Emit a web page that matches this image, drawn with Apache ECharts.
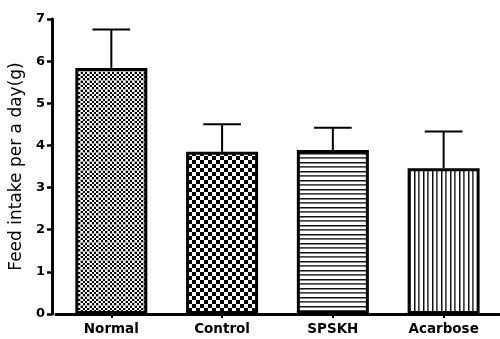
<!DOCTYPE html>
<html>
<head>
<meta charset="utf-8">
<script src="https://cdn.jsdelivr.net/npm/echarts@6/dist/echarts.min.js"></script>
<style>
html,body{margin:0;padding:0;background:#fff;}
#chart{width:500px;height:339px;}
</style>
</head>
<body>
<div id="chart"></div>
<script>
const categories = ['Normal', 'Control', 'SPSKH', 'Acarbose'];
const means = [5.84, 3.85, 3.89, 3.46];
const errors = [0.91, 0.65, 0.53, 0.87];
const yTicks = [0, 1, 2, 3, 4, 5, 6, 7];

function makeCanvas(w, h, draw) {
  const c = document.createElement('canvas');
  c.width = w; c.height = h;
  const ctx = c.getContext('2d');
  ctx.fillStyle = '#fff';
  ctx.fillRect(0, 0, w, h);
  draw(ctx);
  return c;
}
// fine checkerboard with light gray grid lines
const patFine = makeCanvas(9, 9, ctx => {
  ctx.fillStyle = '#000';
  for (let y = 0; y < 8; y += 2) {
    for (let x = 0; x < 8; x += 2) {
      if (((x + y) / 2) % 2 === 0) ctx.fillRect(x, y, 2, 2);
    }
  }
  ctx.fillStyle = '#aaa';
  ctx.fillRect(8, 0, 1, 9);
  ctx.fillRect(0, 8, 9, 1);
});
// coarse checkerboard
const patCoarse = makeCanvas(8, 8, ctx => {
  ctx.fillStyle = '#000';
  ctx.fillRect(0, 0, 4, 4);
  ctx.fillRect(4, 4, 4, 4);
});
// horizontal lines
const patH = makeCanvas(4, 9, ctx => {
  ctx.fillStyle = '#111';
  ctx.fillRect(0, 0, 4, 1);
  ctx.fillStyle = '#888';
  ctx.fillRect(0, 1, 4, 1);
  ctx.fillStyle = '#444';
  ctx.fillRect(0, 4, 4, 1);
  ctx.fillStyle = '#777';
  ctx.fillRect(0, 5, 4, 1);
});
// vertical lines
const patV = makeCanvas(9, 4, ctx => {
  ctx.fillStyle = '#111';
  ctx.fillRect(0, 0, 1, 4);
  ctx.fillStyle = '#888';
  ctx.fillRect(1, 0, 1, 4);
  ctx.fillStyle = '#444';
  ctx.fillRect(4, 0, 1, 4);
  ctx.fillStyle = '#777';
  ctx.fillRect(5, 0, 1, 4);
});
const patterns = [patFine, patCoarse, patH, patV];

const chart = echarts.init(document.getElementById('chart'), null, {renderer: 'canvas'});

const barData = means.map((v, i) => ({
  value: v,
  itemStyle: {color: {image: patterns[i], repeat: 'repeat'}}
}));
const errData = means.map((v, i) => [i, v, v + errors[i]]);

const option = {
  animation: false,
  backgroundColor: '#fff',
  grid: {left: 55, right: 1, top: 19, bottom: 25, containLabel: false},
  xAxis: {
    type: 'category',
    data: categories,
    axisLine: {lineStyle: {color: '#000', width: 3}},
    axisTick: {show: true, alignWithLabel: true, length: 4, lineStyle: {color: '#000', width: 2}},
    axisLabel: {color: '#000', fontFamily: 'DejaVu Sans', fontWeight: 'bold', fontSize: 13.5, margin: 8}
  },
  yAxis: {
    type: 'value',
    min: yTicks[0], max: yTicks[yTicks.length - 1], interval: 1,
    offset: 4,
    name: 'Feed intake per a day(g)',
    nameLocation: 'middle',
    nameGap: 20,
    nameTextStyle: {color: '#000', fontFamily: 'DejaVu Sans', fontSize: 17},
    axisLine: {show: true, lineStyle: {color: '#000', width: 3}},
    axisTick: {show: true, length: 5, lineStyle: {color: '#000', width: 2.5}},
    axisLabel: {color: '#000', fontFamily: 'DejaVu Sans', fontWeight: 'bold', fontSize: 13, margin: 7},
    splitLine: {show: false}
  },
  series: [
    {
      type: 'custom',
      z: 1,
      data: errData,
      renderItem: function (params, api) {
        const x = api.value(0);
        const p0 = api.coord([x, api.value(1)]);
        const p1 = api.coord([x, api.value(2)]);
        const half = api.size([1, 0])[0] * 0.17;
        return {
          type: 'group',
          children: [
            {type: 'line', shape: {x1: p0[0], y1: p0[1], x2: p1[0], y2: p1[1]}, style: {stroke: '#000', lineWidth: 2}},
            {type: 'line', shape: {x1: p1[0] - half, y1: p1[1], x2: p1[0] + half, y2: p1[1]}, style: {stroke: '#000', lineWidth: 2}}
          ]
        };
      }
    },
    {
      type: 'bar',
      z: 2,
      data: barData,
      barWidth: 72,
      itemStyle: {borderColor: '#000', borderWidth: 3}
    }
  ]
};
chart.setOption(option);
</script>
</body>
</html>
